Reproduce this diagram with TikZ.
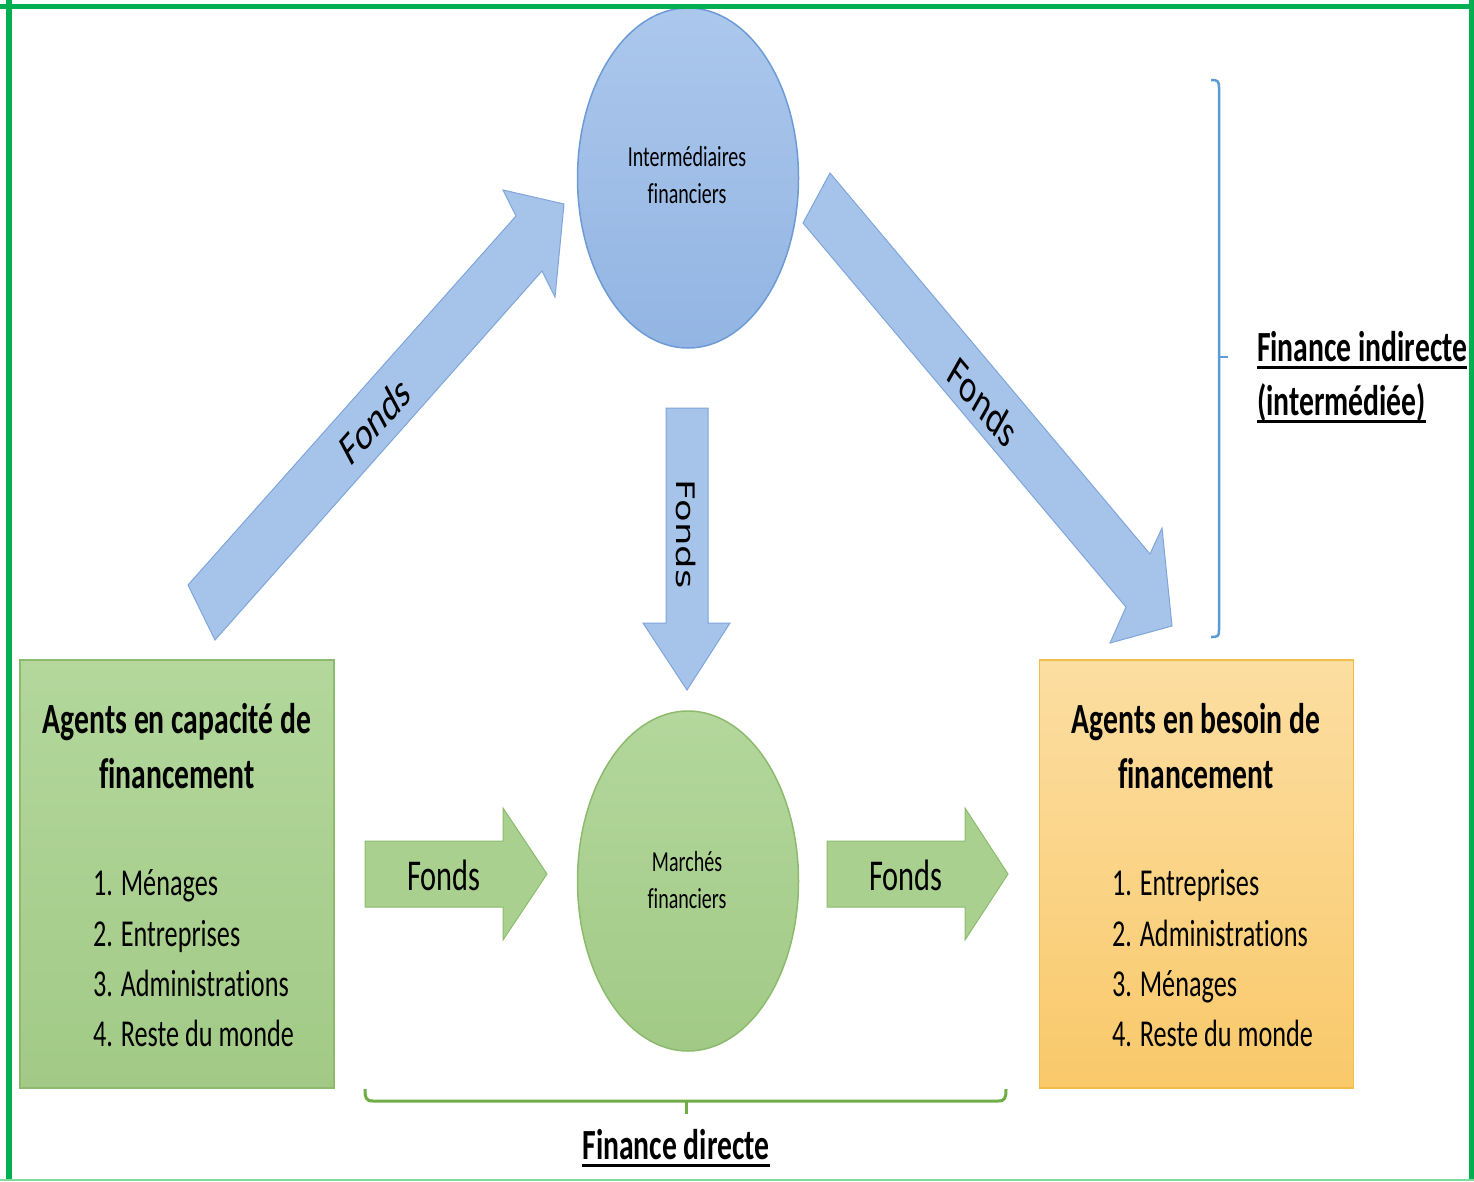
\documentclass[tikz,border=0pt]{standalone}
\usepackage{fontspec}
\setmainfont{Carlito}[Ligatures={TeX,NoCommon,NoContextual},Contextuals={NoAlternate}]
\newfontfamily\dejavu{DejaVu Sans}
\usetikzlibrary{shapes.geometric}
\definecolor{frameG}{HTML}{00B050}
\definecolor{frameL}{HTML}{7FDB9E}
\definecolor{bFillT}{HTML}{ABC7EC}
\definecolor{bFillB}{HTML}{93B5E3}
\definecolor{bBorder}{HTML}{6E9BD6}
\definecolor{bArrow}{HTML}{A6C3EA}
\definecolor{bArrowB}{HTML}{7FA6DA}
\definecolor{gFillT}{HTML}{B3D79C}
\definecolor{gFillB}{HTML}{A2CA86}
\definecolor{gBorder}{HTML}{8DBB6E}
\definecolor{gArrow}{HTML}{A9D08F}
\definecolor{oFillT}{HTML}{FCDEA2}
\definecolor{oFillB}{HTML}{F9C96A}
\definecolor{oBorder}{HTML}{F2BE4B}
\definecolor{braceG}{HTML}{70AD47}
\definecolor{braceB}{HTML}{5B9BD5}
\begin{document}
\begin{tikzpicture}[x=1pt,y=-1pt,
  txtbase/.style={inner sep=0pt, outer sep=0pt, xscale=0.69, text=black},
  titletxt/.style={txtbase, font=\bfseries\fontsize{43}{54}\selectfont},
  listtxt/.style={txtbase, font=\fontsize{38}{50}\selectfont},
  smalltxt/.style={txtbase, font=\fontsize{29}{37}\selectfont},
  fondstxt/.style={txtbase, font=\fontsize{44}{50}\selectfont},
  undertxt/.style={txtbase, font=\bfseries\fontsize{43}{54}\selectfont},
  ulinestyle/.style={line width=3pt, black},
  boxshape/.style={draw, line width=1.5pt, inner sep=0pt, minimum width=314, minimum height=428},
  ellshape/.style={ellipse, draw, line width=1.5pt, inner sep=0pt, minimum width=221, minimum height=340},
  bluearrow/.style={fill=bArrow, draw=bArrowB, line width=1pt, line join=miter},
  greenarrow/.style={fill=gArrow, draw=gBorder, line width=1pt, line join=miter},
]
\useasboundingbox (0,0) rectangle (1474,1181);
\clip (0,0) rectangle (1474,1181);
\fill[white] (0,0) rectangle (1474,1181);

% ellipses
\node[ellshape, draw=bBorder, top color=bFillT, bottom color=bFillB] (inter) at (688,178) {};
\node[ellshape, draw=gBorder, top color=gFillT, bottom color=gFillB] (march) at (688,881) {};

% boxes
\node[boxshape, draw=gBorder, top color=gFillT, bottom color=gFillB] (capa) at (177,874) {};
\node[boxshape, draw=oBorder, top color=oFillT, bottom color=oFillB] (besoin) at (1196.5,874) {};

% big arrows
\draw[bluearrow] (188,585) -- (516,216) -- (503,190) -- (564,204) -- (555,297) -- (542,271) -- (215,640) -- cycle;
\draw[bluearrow] (830,173) -- (1150,554) -- (1162,528) -- (1172,626) -- (1110,643) -- (1126,607) -- (803,223) -- cycle;
\draw[bluearrow] (666,408) -- (708,408) -- (708,623) -- (730,623) -- (687,690) -- (643,623) -- (666,623) -- cycle;
\draw[greenarrow] (365,841) -- (503,841) -- (503,808) -- (547,874) -- (503,940) -- (503,907) -- (365,907) -- cycle;
\draw[greenarrow] (827,841) -- (965,841) -- (965,808) -- (1008,874) -- (965,940) -- (965,907) -- (827,907) -- cycle;

% arrow labels
\node[inner sep=0pt, font=\fontsize{47}{50}\selectfont, cm={0.544,0.614,-0.424,0.789,(0,0)}] (fdl) at (375,420) {Fonds};
\node[inner sep=0pt, font=\fontsize{47}{50}\selectfont, cm={0.533,-0.636,0.439,0.772,(0,0)}] (fdr) at (983,402) {Fonds};
\node[inner sep=0pt, font=\dejavu\fontsize{37}{40}\selectfont, cm={0,-1,0.69,0,(0,0)}] (fdv) at (686,534) {Fonds};
\node[fondstxt, anchor=base] (fg1) at (444,890) {Fonds};
\node[fondstxt, anchor=base] (fg2) at (906,890) {Fonds};

% ellipse texts
\node[smalltxt, anchor=base] (it1) at (687,166) {Intermédiaires};
\node[smalltxt, anchor=base] (it2) at (687,203) {financiers};
\node[smalltxt, anchor=base] (mt1) at (687,871) {Marchés};
\node[smalltxt, anchor=base] (mt2) at (687,908) {financiers};

% left box text
\node[titletxt, anchor=base] (lt1) at (177,733) {Agents en capacité de};
\node[titletxt, anchor=base] (lt2) at (177,788) {financement};
\node[listtxt, anchor=base west] (l1) at (93,895) {1. Ménages};
\node[listtxt, anchor=base west] (l2) at (93,946) {2. Entreprises};
\node[listtxt, anchor=base west] (l3) at (93,996) {3. Administrations};
\node[listtxt, anchor=base west] (l4) at (93,1046) {4. Reste du monde};

% right box text
\node[titletxt, anchor=base] (rt1) at (1196,733) {Agents en besoin de};
\node[titletxt, anchor=base] (rt2) at (1196,788) {financement};
\node[listtxt, anchor=base west] (r1) at (1112,895) {1. Entreprises};
\node[listtxt, anchor=base west] (r2) at (1112,946) {2. Administrations};
\node[listtxt, anchor=base west] (r3) at (1112,996) {3. Ménages};
\node[listtxt, anchor=base west] (r4) at (1112,1046) {4. Reste du monde};

% braces
\draw[braceB, line width=2.5pt] (1211,80) .. controls (1218,80) and (1219,81) .. (1219,88) -- (1219,630) .. controls (1219,636) and (1218,637) .. (1211,637);
\draw[braceB, line width=2.5pt] (1219,357) -- (1228,357);
\draw[braceG, line width=3pt] (365,1089) .. controls (365,1098) and (366,1101) .. (373,1101) -- (998,1101) .. controls (1005,1101) and (1006,1098) .. (1006,1089);
\draw[braceG, line width=3pt] (686,1101) -- (686,1114);

% finance labels
\node[undertxt, anchor=base west] (fi1) at (1257,361) {Finance indirecte};
\node[undertxt, anchor=base west] (fi2) at (1257,415) {(intermédiée)};
\node[undertxt, anchor=base] (fd) at (676,1159) {Finance directe};
\draw[ulinestyle] ([yshift=-6pt]fi1.base west) -- ([yshift=-6pt]fi1.base east);
\draw[ulinestyle] ([yshift=-6pt]fi2.base west) -- ([yshift=-6pt]fi2.base east);
\draw[ulinestyle] ([yshift=-6pt]fd.base west) -- ([yshift=-6pt]fd.base east);

% frame
\draw[frameG, line width=6pt] (9,0) -- (9,1181);
\draw[frameG, line width=5pt] (0,6.5) -- (1474,6.5);
\draw[frameG, line width=5pt] (1471.5,0) -- (1471.5,1181);
\draw[frameL, line width=2pt] (0,1180) -- (1474,1180);
\end{tikzpicture}
\end{document}
